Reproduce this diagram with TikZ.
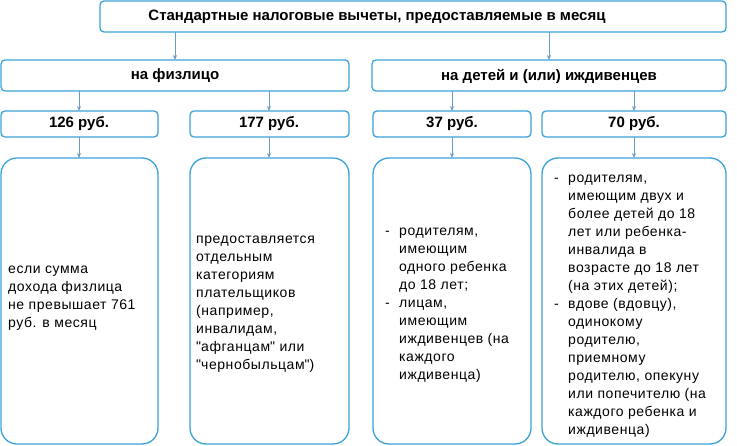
\documentclass[tikz,border=0pt]{standalone}
\usepackage{fontspec}
\setmainfont{Liberation Sans}
\newfontfamily\bodyf{Liberation Sans}[LetterSpace=4]
\newfontfamily\qf{Liberation Sans}
\usetikzlibrary{arrows.meta}
\definecolor{bd}{HTML}{3AA3DA}
\definecolor{ar}{HTML}{6A9CC8}
\newcommand{\dsh}{\makebox[14pt][l]{-}}
\newcommand{\ind}{\hspace*{14pt}}
\newcommand{\q}{{\qf\symbol{34}}}
\begin{document}
\begin{tikzpicture}[x=1pt,y=-1pt,
  hbox/.style={draw=bd,line width=1.3pt,rounded corners=4pt,fill=white},
  bbox/.style={draw=bd,line width=1.3pt,rounded corners=16pt,fill=white},
  htxt/.style={font=\bfseries\fontsize{15}{17}\selectfont},
  btxt/.style={font=\bodyf\fontsize{14}{18}\selectfont,align=left,anchor=west,inner sep=0pt},
  arr/.style={draw=ar,line width=0.8pt,-{Stealth[length=5pt,width=4pt]}}]
\useasboundingbox (0,0) rectangle (737,446);
\draw[hbox] (100,1) rectangle (726,32);
\node[htxt] (t) at (377,17) {Стандартные налоговые вычеты, предоставляемые в месяц};
\draw[hbox] (1,60) rectangle (349,91);
\node[htxt] (a) at (175,76) {на физлицо};
\draw[hbox] (372,60) rectangle (726,91);
\node[htxt] (b) at (549,76) {на детей и (или) иждивенцев};
\draw[hbox] (1,111) rectangle (158,137);
\node[htxt] (a1) at (79,124) {126 руб.};
\draw[hbox] (190,111) rectangle (349,137);
\node[htxt] (a2) at (269,124) {177 руб.};
\draw[hbox] (373,111) rectangle (531,137);
\node[htxt] (b1) at (452,124) {37 руб.};
\draw[hbox] (542,111) rectangle (726,137);
\node[htxt] (b2) at (634,124) {70 руб.};
\draw[bbox] (1,158) -- (1,444) -- (158,444) -- (158,158) -- cycle;
\draw[bbox] (190,158) -- (190,444) -- (349,444) -- (349,158) -- cycle;
\draw[bbox] (373,158) -- (373,444) -- (531,444) -- (531,158) -- cycle;
\draw[bbox] (542,158) -- (542,444) -- (726,444) -- (726,158) -- cycle;
\coordinate (c1) at (79,158); \coordinate (c2) at (269,158);
\coordinate (c3) at (452,158); \coordinate (c4) at (634,158);
\draw[arr] (175,32) -- (a.center |- 0,60);
\draw[arr] (549,32) -- (b.center |- 0,60);
\draw[arr] (79,91) -- (a1.center |- 0,111);
\draw[arr] (269,91) -- (a2.center |- 0,111);
\draw[arr] (452,91) -- (b1.center |- 0,111);
\draw[arr] (634,91) -- (b2.center |- 0,111);
\draw[arr] (79,137) -- (c1);
\draw[arr] (269,137) -- (c2);
\draw[arr] (452,137) -- (c3);
\draw[arr] (634,137) -- (c4);
\node[btxt] (x1) at (8,298) {если сумма\\дохода физлица\\не превышает 761\\руб. в месяц};
\node[btxt] (x2) at (196,304) {предоставляется\\отдельным\\категориям\\плательщиков\\(например,\\инвалидам,\\\q афганцам\q{} или\\\q чернобыльцам\q)};
\node[btxt] (x3) at (385,305) {\dsh родителям,\\\ind имеющим\\\ind одного ребенка\\\ind до 18 лет;\\\dsh лицам,\\\ind имеющим\\\ind иждивенцев (на\\\ind каждого\\\ind иждивенца)};
\node[btxt] (x4) at (554,306) {\dsh родителям,\\\ind имеющим двух и\\\ind более детей до 18\\\ind лет или ребенка-\\\ind инвалида в\\\ind возрасте до 18 лет\\\ind (на этих детей);\\\dsh вдове (вдовцу),\\\ind одинокому\\\ind родителю,\\\ind приемному\\\ind родителю, опекуну\\\ind или попечителю (на\\\ind каждого ребенка и\\\ind иждивенца)};
\end{tikzpicture}
\end{document}
